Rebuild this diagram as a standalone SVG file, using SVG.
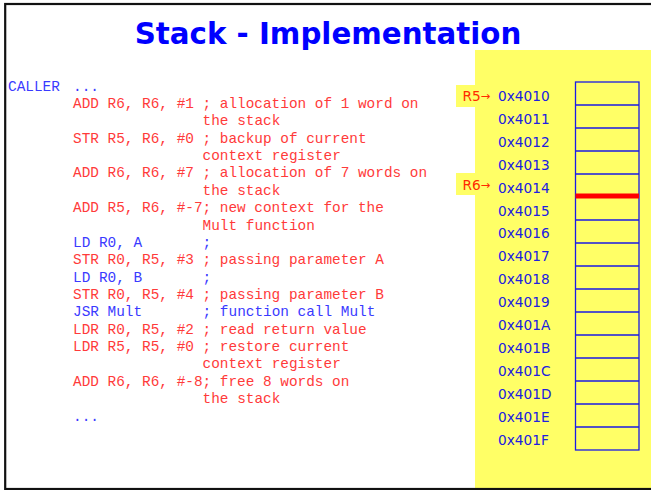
<svg xmlns="http://www.w3.org/2000/svg" width="651" height="490" viewBox="0 0 651 490">
<style>
.code{font-family:"Liberation Mono","Courier New",monospace;font-size:14.4px;white-space:pre}
.r{fill:#ff3a3a}
.b{fill:#3a3aff}
.addr{font-family:"DejaVu Sans",Verdana,sans-serif;font-size:13.7px;fill:#2020e0}
.ptr{font-family:"DejaVu Sans",Verdana,sans-serif;font-size:13.7px;fill:#ff2a00}
.cell{fill:none;stroke:#1a1ae6;stroke-width:1.3}
</style>
<rect x="0" y="0" width="651" height="490" fill="#ffffff"/>
<g id="panel">
<rect x="475" y="50" width="176" height="440" fill="#ffff66"/>
</g>
<g id="title">
<text x="328" y="43.5" text-anchor="middle" font-family="'DejaVu Sans',Verdana,sans-serif" font-weight="bold" font-size="29.3" fill="#0000ff">Stack - Implementation</text>
</g>
<g id="code" class="code">
<text x="8" y="90.5" class="b">CALLER</text>
<text x="73" y="90.5" class="b">...</text>
<text x="73" y="107.9" class="r">ADD R6, R6, #1 ; allocation of 1 word on</text>
<text x="202.6" y="125.2" class="r">the stack</text>
<text x="73" y="142.6" class="r">STR R5, R6, #0 ; backup of current</text>
<text x="202.6" y="160" class="r">context register</text>
<text x="73" y="177.3" class="r">ADD R6, R6, #7 ; allocation of 7 words on</text>
<text x="202.6" y="194.7" class="r">the stack</text>
<text x="73" y="212.1" class="r">ADD R5, R6, #-7; new context for the</text>
<text x="202.6" y="229.5" class="r">Mult function</text>
<text x="73" y="246.8" class="b">LD R0, A</text>
<text x="202.6" y="246.8" class="b">;</text>
<text x="73" y="264.2" class="r">STR R0, R5, #3 ; passing parameter A</text>
<text x="73" y="281.6" class="b">LD R0, B</text>
<text x="202.6" y="281.6" class="b">;</text>
<text x="73" y="298.9" class="r">STR R0, R5, #4 ; passing parameter B</text>
<text x="73" y="316.3" class="b">JSR Mult</text>
<text x="202.6" y="316.3" class="b">; function call Mult</text>
<text x="73" y="333.7" class="r">LDR R0, R5, #2 ; read return value</text>
<text x="73" y="351" class="r">LDR R5, R5, #0 ; restore current</text>
<text x="202.6" y="368.4" class="r">context register</text>
<text x="73" y="385.8" class="r">ADD R6, R6, #-8; free 8 words on</text>
<text x="202.6" y="403.1" class="r">the stack</text>
<text x="73" y="420.5" class="b">...</text>
</g>
<g id="addresses" class="addr">
<text x="498" y="100.7">0x4010</text>
<text x="498" y="123.7">0x4011</text>
<text x="498" y="146.6">0x4012</text>
<text x="498" y="169.6">0x4013</text>
<text x="498" y="192.5">0x4014</text>
<text x="498" y="215.5">0x4015</text>
<text x="498" y="238.4">0x4016</text>
<text x="498" y="261.4">0x4017</text>
<text x="498" y="284.3">0x4018</text>
<text x="498" y="307.3">0x4019</text>
<text x="498" y="330.2">0x401A</text>
<text x="498" y="353.2">0x401B</text>
<text x="498" y="376.1">0x401C</text>
<text x="498" y="399.1">0x401D</text>
<text x="498" y="422">0x401E</text>
<text x="498" y="445">0x401F</text>
</g>
<g id="stack">
<rect class="cell" x="575.5" y="82" width="63.5" height="368"/>
<path class="cell" d="M575.5 105H639M575.5 128H639M575.5 151H639M575.5 174H639M575.5 197H639M575.5 220H639M575.5 243H639M575.5 266H639M575.5 289H639M575.5 312H639M575.5 335H639M575.5 358H639M575.5 381H639M575.5 404H639M575.5 427H639"/>
<rect id="top-marker" x="575.5" y="193.5" width="63.5" height="5" fill="#ff0000"/>
</g>
<g id="pointer-r5">
<rect x="456" y="85" width="37" height="22" fill="#ffff66"/>
<text x="462.5" y="100.7" class="ptr">R5<tspan font-size="11.5" dy="-0.5">→</tspan></text>
</g>
<g id="pointer-r6">
<rect x="456" y="173" width="37" height="22" fill="#ffff66"/>
<text x="462.5" y="189.5" class="ptr">R6<tspan font-size="11.5" dy="-0.5">→</tspan></text>
</g>
<g id="frame">
<rect x="5.2" y="4" width="700" height="485" fill="none" stroke="#111111" stroke-width="2.2"/>
</g>
</svg>
